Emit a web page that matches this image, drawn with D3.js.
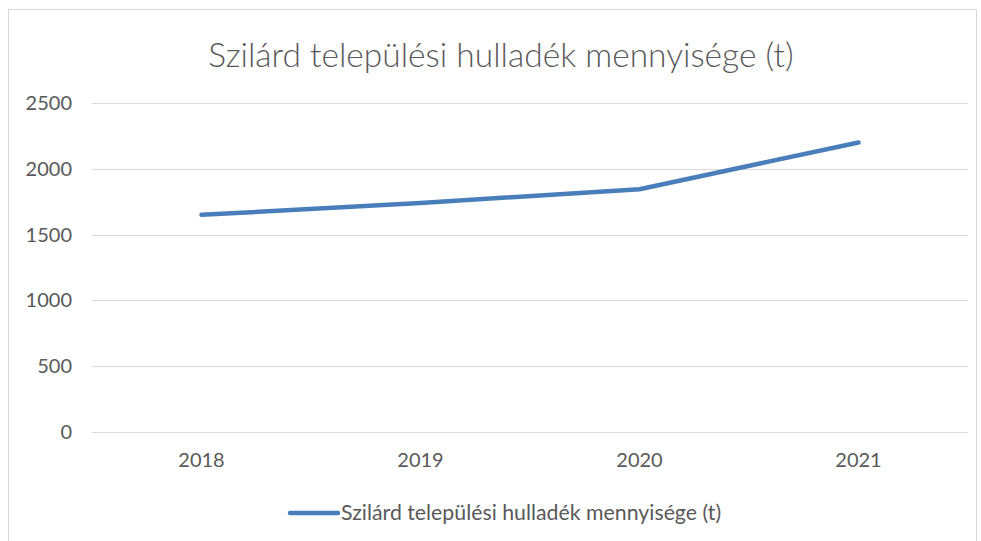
<!DOCTYPE html>
<meta charset="utf-8">
<style>
body { margin: 0; background: #fff; }
text { font-family: Lato, "Open Sans", sans-serif; fill: #595959; }
.grid line { stroke: #d9d9d9; stroke-width: 1px; }
.line { fill: none; stroke: #4a7ebb; stroke-width: 4.5px; stroke-linecap: round; stroke-linejoin: round; }
</style>
<body>
<script src="https://d3js.org/d3.v7.min.js"></script>
<script>
// chart data
var years = ["2018", "2019", "2020", "2021"];
var amounts = [1650, 1740, 1845, 2200];
var yTicks = [0, 500, 1000, 1500, 2000, 2500];
var title = "Szilárd települési hulladék mennyisége (t)";

var width = 981, height = 541;
var margin = {top: 103, right: 13, bottom: 109, left: 92};

var svg = d3.select("body").append("svg")
    .attr("width", width)
    .attr("height", height);

// chart area border
svg.append("rect")
    .attr("x", 8.5).attr("y", 9.5)
    .attr("width", 968).attr("height", 560)
    .attr("fill", "none")
    .attr("stroke", "#d9d9d9");

var x = d3.scaleBand()
    .domain(years)
    .range([margin.left, width - margin.right]);

var y = d3.scaleLinear()
    .domain([0, 2500])
    .range([height - margin.bottom, margin.top]);

// gridlines
svg.append("g")
    .attr("class", "grid")
  .selectAll("line")
    .data(yTicks)
  .enter().append("line")
    .attr("x1", margin.left)
    .attr("x2", width - margin.right)
    .attr("y1", function(d) { return Math.round(y(d)) + 0.5; })
    .attr("y2", function(d) { return Math.round(y(d)) + 0.5; });

// y labels
var yAxis = svg.append("g")
    .attr("transform", "translate(" + (margin.left - 20) + ",0)")
    .call(d3.axisLeft(y).tickValues(yTicks).tickFormat(d3.format("d")).tickSize(0).tickPadding(0));
yAxis.select(".domain").remove();
yAxis.attr("font-family", null).attr("font-size", null);
yAxis.selectAll("text")
    .attr("font-size", 20)
    .attr("fill", "#595959");

// x labels
var xAxis = svg.append("g")
    .attr("transform", "translate(0," + (height - margin.bottom) + ")")
    .call(d3.axisBottom(x).tickSize(0).tickPadding(21));
xAxis.select(".domain").remove();
xAxis.attr("font-family", null).attr("font-size", null);
xAxis.selectAll("text")
    .attr("font-size", 20)
    .attr("fill", "#595959");

// line
var valueline = d3.line()
    .x(function(d, i) { return x(years[i]) + x.bandwidth() / 2; })
    .y(function(d) { return y(d); });

svg.append("path")
    .datum(amounts)
    .attr("class", "line")
    .attr("d", valueline);

// title
svg.append("text")
    .attr("x", 501)
    .attr("y", 67)
    .attr("text-anchor", "middle")
    .attr("font-size", 33.5)
    .style("font-weight", 300)
    .text(title);

// legend
svg.append("line")
    .attr("x1", 290).attr("x2", 338)
    .attr("y1", 513).attr("y2", 513)
    .attr("stroke", "#4a7ebb")
    .attr("stroke-width", 4.5)
    .attr("stroke-linecap", "round");
svg.append("text")
    .attr("x", 341)
    .attr("y", 520)
    .attr("font-size", 21.3)
    .text(title);
</script>
</body>
